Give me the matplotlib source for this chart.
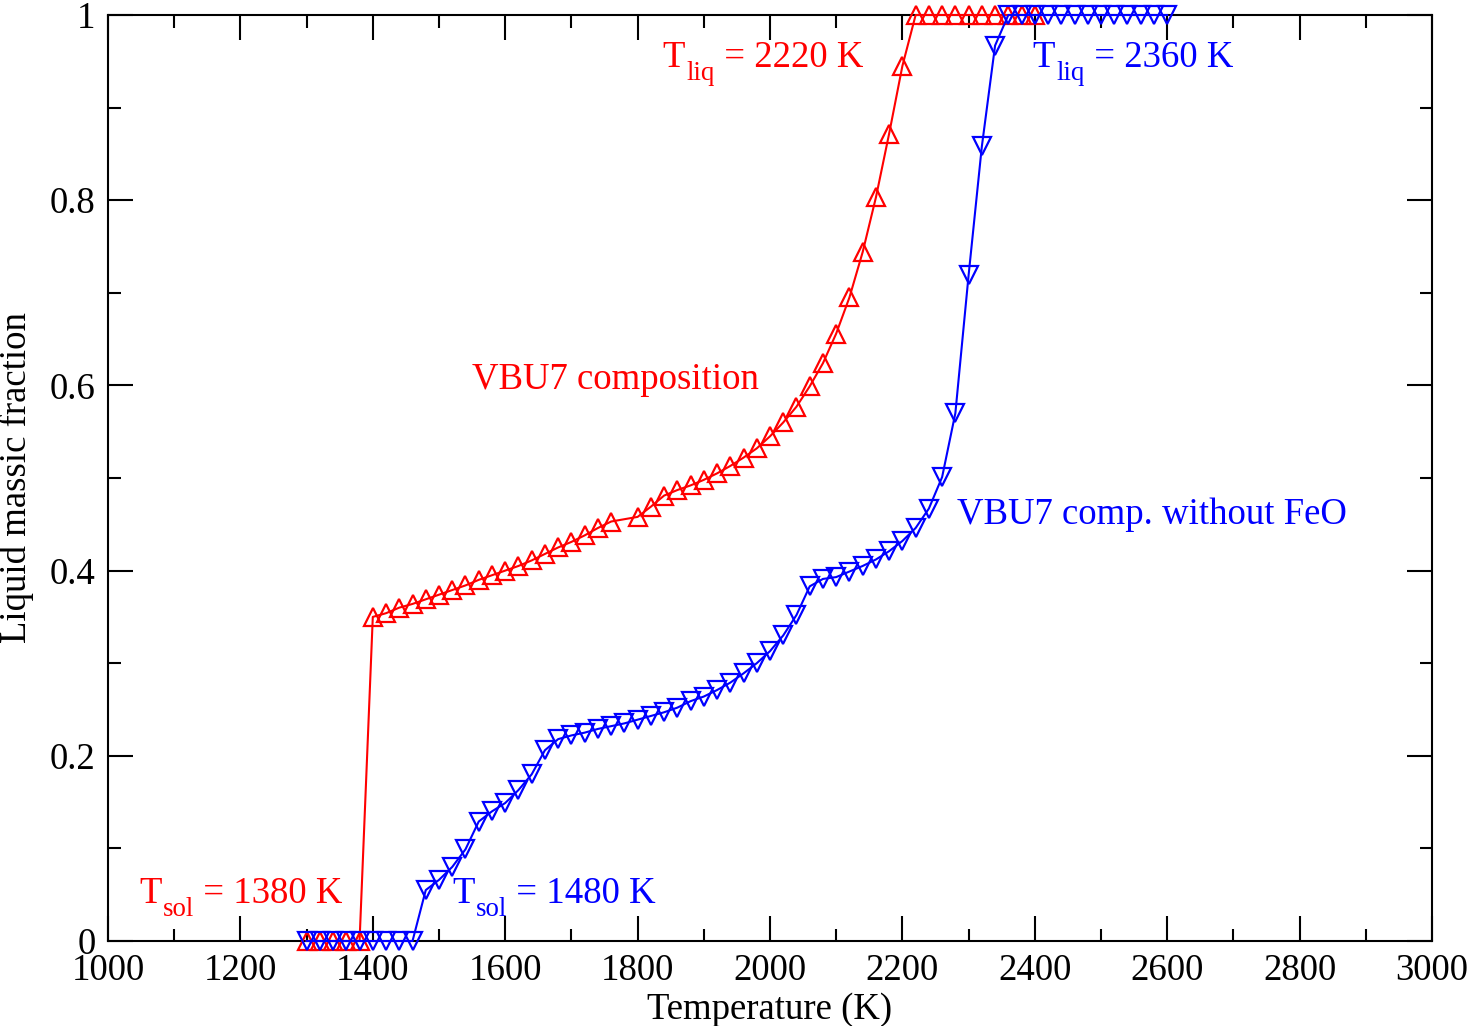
import numpy as np
import matplotlib
matplotlib.use("Agg")
import matplotlib.pyplot as plt
from matplotlib.ticker import MultipleLocator, FixedLocator
from matplotlib import transforms

# ---- data ----
red_T = [1300, 1320, 1340, 1360, 1380,
         1400, 1420, 1440, 1460, 1480, 1500, 1520, 1540, 1560, 1580,
         1600, 1620, 1640, 1660, 1680, 1700, 1720, 1740, 1760,
         1800, 1820, 1840, 1860, 1880, 1900, 1920, 1940, 1960, 1980,
         2000, 2020, 2040, 2060, 2080, 2100, 2120, 2140, 2160, 2180, 2200,
         2220, 2240, 2260, 2280, 2300, 2320, 2340, 2360, 2380, 2400]
red_f = [0, 0, 0, 0, 0,
         0.350, 0.354, 0.360, 0.364, 0.369, 0.374, 0.379, 0.384, 0.390, 0.395,
         0.400, 0.405, 0.411, 0.418, 0.425, 0.431, 0.438, 0.446, 0.453,
         0.458, 0.469, 0.481, 0.487, 0.492, 0.498, 0.505, 0.513, 0.522, 0.532,
         0.545, 0.560, 0.577, 0.599, 0.624, 0.656, 0.695, 0.744, 0.803, 0.872, 0.945,
         1, 1, 1, 1, 1, 1, 1, 1, 1, 1]

blue_T = [1300, 1320, 1340, 1360, 1380, 1400, 1420, 1440, 1460,
          1480, 1500, 1520, 1540, 1560, 1580, 1600, 1620, 1640, 1660,
          1680, 1700, 1720, 1740, 1760, 1780, 1800, 1820, 1840, 1860,
          1880, 1900, 1920, 1940, 1960, 1980, 2000, 2020, 2040, 2060,
          2080, 2100, 2120, 2140, 2160, 2180, 2200, 2220, 2240, 2260,
          2280, 2300, 2320, 2340,
          2360, 2380, 2400, 2420, 2440, 2460, 2480, 2500, 2520, 2540, 2560, 2580, 2600]
blue_f = [0, 0, 0, 0, 0, 0, 0, 0, 0,
          0.055, 0.066, 0.080, 0.099, 0.129, 0.140, 0.149, 0.163, 0.180, 0.206,
          0.218, 0.222, 0.225, 0.229, 0.232, 0.235, 0.239, 0.243, 0.247, 0.252,
          0.259, 0.264, 0.271, 0.279, 0.289, 0.300, 0.313, 0.330, 0.352, 0.383,
          0.391, 0.393, 0.399, 0.405, 0.412, 0.421, 0.432, 0.446, 0.467, 0.501,
          0.570, 0.719, 0.858, 0.967,
          1, 1, 1, 1, 1, 1, 1, 1, 1, 1, 1, 1, 1]

xticks = [1000, 1200, 1400, 1600, 1800, 2000, 2200, 2400, 2600, 2800, 3000]
yticks = [0, 0.2, 0.4, 0.6, 0.8, 1.0]
ytick_labels = ["0", "0.2", "0.4", "0.6", "0.8", "1"]

# ---- style ----
plt.rcParams['font.family'] = ['Liberation Serif', 'DejaVu Serif']
FS = 26.5

fig = plt.figure(figsize=(14.7, 10.26), dpi=100)
ax = fig.add_axes([108/1470, 1-941/1026, (1432-108)/1470, (941-15)/1026])

ax.plot(red_T, red_f, color='red', lw=1.5, marker='^', ms=12.5, mfc='none',
        mec='red', mew=1.6, clip_on=False, zorder=3)
ax.plot(blue_T, blue_f, color='blue', lw=1.5, marker='v', ms=12.5, mfc='none',
        mec='blue', mew=1.6, clip_on=False, zorder=4)

ax.set_xlim(1000, 3000)
ax.set_ylim(0, 1)
ax.xaxis.set_major_locator(FixedLocator(xticks))
ax.xaxis.set_minor_locator(MultipleLocator(100))
ax.set_yticks(yticks)
ax.set_yticklabels(ytick_labels)
ax.yaxis.set_minor_locator(MultipleLocator(0.1))

ax.tick_params(which='both', direction='in', top=True, right=True,
               width=1.5, labelsize=FS, pad=9)
ax.tick_params(which='major', length=18)
ax.tick_params(which='minor', length=9)
for s in ax.spines.values():
    s.set_linewidth(1.5)

ax.set_xlabel('Temperature (K)', fontsize=FS)
ax.set_ylabel('Liquid massic fraction', fontsize=FS)
ax.xaxis.set_label_coords(0.5, -0.055)
ax.yaxis.set_label_coords(-0.056, 0.5)

renderer = fig.canvas.get_renderer()


def sub_label(x, y, main, sub, rest, color):
    t1 = ax.text(x, y, main, color=color, fontsize=FS, va='baseline')
    w1 = t1.get_window_extent(renderer).width
    tr2 = transforms.offset_copy(ax.transData, fig=fig, x=w1 + 1, y=-13, units='dots')
    t2 = ax.text(x, y, sub, color=color, fontsize=FS * 0.73, va='baseline', transform=tr2)
    w2 = t2.get_window_extent(renderer).width
    tr3 = transforms.offset_copy(ax.transData, fig=fig, x=w1 + w2 + 1, y=0, units='dots')
    ax.text(x, y, rest, color=color, fontsize=FS, va='baseline', transform=tr3)


sub_label(1838, 0.944, 'T', 'liq', ' = 2220 K', 'red')
sub_label(2397, 0.944, 'T', 'liq', ' = 2360 K', 'blue')
sub_label(1048, 0.041, 'T', 'sol', ' = 1380 K', 'red')
sub_label(1520, 0.041, 'T', 'sol', ' = 1480 K', 'blue')
ax.text(1550, 0.596, 'VBU7 composition', color='red', fontsize=FS, va='baseline')
ax.text(2282, 0.450, 'VBU7 comp. without FeO', color='blue', fontsize=FS, va='baseline')

fig.savefig('out.png', dpi=100)
